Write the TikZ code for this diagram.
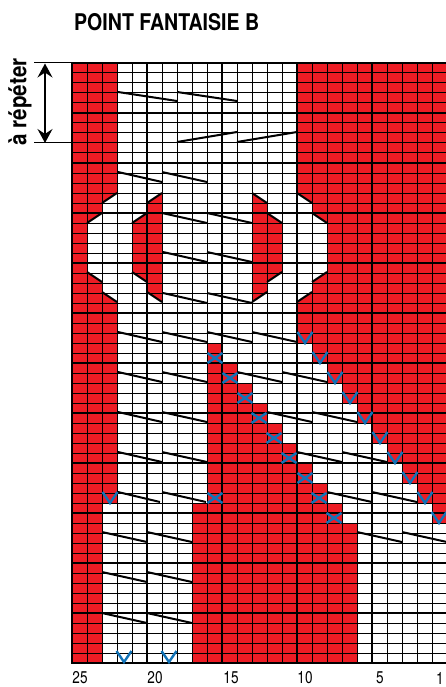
\documentclass[tikz,border=0pt]{standalone}
\usepackage{fontspec}
\setmainfont{TeX Gyre Heros}
\usetikzlibrary{arrows.meta}
\definecolor{knitred}{HTML}{ED1C24}
\definecolor{knitblue}{HTML}{1173B8}
\tikzset{
  redarea/.style={fill=knitred,draw=none},
  thin grid/.style={black,line width=1pt},
  bold grid/.style={black,line width=2.8pt},
  stitch/.style={black,line width=2pt},
  vmark/.style={knitblue,line width=2.4pt},
  xmark/.style={knitblue,line width=2.4pt},
  ticklabel/.style={inner sep=0pt,font=\fontsize{17}{17}\selectfont},
}
\newcommand{\squeezed}[2][0.8]{\scalebox{#1}[1]{#2}}
\newcommand{\vsign}[2]{\draw[vmark] ({#1-7.5},{#2-11}) -- (#1,#2) -- ({#1+7.5},{#2-11});}
\newcommand{\xsign}[2]{\draw[xmark] ({#1-7.5},{#2-5}) -- ({#1+7.5},{#2+5}) ({#1-7.5},{#2+5}) -- ({#1+7.5},{#2-5});}
\begin{document}
\begin{tikzpicture}[x=1pt,y=-1pt]
\useasboundingbox (0,0) rectangle (446,687);
\fill[white] (0,0) rectangle (446,687);
\begin{scope}
\clip (0,0) rectangle (446,687);
% red areas
\fill[redarea] (72,63)--(117,63)--(117,193)--(102,203)--(102,213)--(87,223)--(87,272)--(102,282)--(102,292)--(117,302)--(117,503)--(102,503)--(102,663)--(72,663)--cycle;
\fill[redarea] (162,193)--(147,203)--(147,213)--(132,223)--(132,272)--(147,282)--(147,292)--(162,302)--cycle;
\fill[redarea] (252,193)--(267,203)--(267,213)--(282,223)--(282,272)--(267,282)--(267,292)--(252,302)--cycle;
\fill[redarea] (297,63)--(447,63)--(447,523)--(432,523)--(432,503)--(417,503)--(417,483)--(402,483)--(402,463)--(387,463)--(387,443)--(372,443)--(372,423)--(357,423)--(357,403)--(342,403)--(342,383)--(327,383)--(327,363)--(312,363)--(312,343)--(297,343)--(297,302)--(312,292)--(312,282)--(327,272)--(327,223)--(312,213)--(312,203)--(297,193)--cycle;
\fill[redarea] (207,343)--(222,343)--(222,363)--(237,363)--(237,383)--(252,383)--(252,403)--(267,403)--(267,423)--(282,423)--(282,443)--(297,443)--(297,463)--(312,463)--(312,483)--(327,483)--(327,503)--(342,503)--(342,523)--(357,523)--(357,663)--(192,663)--(192,503)--(207,503)--cycle;
% grid
\foreach \c in {0,...,24} \draw[thin grid] ({72+15*\c},63) -- ({72+15*\c},663);
\foreach \r in {0,...,60} \draw[thin grid] (72,{63+10*\r}) -- (447,{63+10*\r});
\foreach \c in {0,...,4} \draw[bold grid] ({72+75*\c},63) -- ({72+75*\c},664);
\foreach \r in {0,...,12} \draw[bold grid] (71,{63+50*\r}) -- (447,{63+50*\r});
% stitches
\foreach \a/\b/\cc/\d in {
 118/92/177/101, 177/92/237/101, 177/142/237/132, 237/142/297/132,
 118/172/162/182, 162/172/207/182, 162/213/207/223, 207/213/252/223,
 163/252/207/262, 207/252/252/262, 163/293/207/303, 207/293/252/303,
 118/332/162/342, 162/332/207/342, 207/332/252/342, 252/332/297/342,
 118/372/162/382, 162/372/207/382, 237/372/282/382, 282/372/327/382,
 118/412/162/422, 162/412/207/422, 267/412/312/422, 312/412/357/422,
 118/452/162/462, 162/452/207/462, 297/452/342/462, 342/452/387/462,
 118/492/160/502, 162/492/206/502, 327/492/372/502, 372/492/417/502,
 102/532/147/542, 147/532/192/542, 357/532/402/542, 402/532/447/542,
 102/572/147/582, 147/572/192/582,
 102/613/147/623, 147/613/192/623,
 117/193/102/203, 102/213/87/223, 87/272/102/282, 102/292/117/302,
 162/193/147/203, 147/213/132/223, 132/272/147/282, 147/292/162/302,
 252/193/267/203, 267/213/282/223, 282/272/267/282, 267/292/252/302,
 297/193/312/203, 312/213/327/223, 327/272/312/282, 312/292/297/302}
 {\draw[stitch] (\a,\b) -- (\cc,\d);}
% decreases and increases
\foreach \x/\y in {305/343,320/363,335/383,350/403,365/423,380/443,395/463,410/483,425/503,439/523,110/503,124/662,169/662} {\vsign{\x}{\y}}
\foreach \x/\y in {215/358,230/378,245/398,259/418,274/438,289/458,305/478,319/498,334/518,215/498} {\xsign{\x}{\y}}
\end{scope}
% repeat bracket
\coordinate (repTop) at (45,63.5);
\coordinate (repBot) at (45,143);
\coordinate (tickTopL) at (34,63);
\coordinate (tickTopR) at (72,63);
\coordinate (tickBotL) at (34,143);
\coordinate (tickBotR) at (72,143);
\draw[thin grid] (tickTopL) -- (tickTopR);
\draw[thin grid] (tickBotL) -- (tickBotR);
\draw[black,line width=1.5pt,{Stealth[length=14pt,width=15pt,inset=5pt]}-{Stealth[length=14pt,width=15pt,inset=5pt]}] (repTop) -- (repBot);
% text
\node[anchor=west,inner sep=0pt,font=\bfseries\fontsize{23}{23}\selectfont] (title) at (74,22.5) {\squeezed[0.85]{POINT FANTAISIE B}};
\node[rotate=90,inner sep=0pt,font=\bfseries\fontsize{24}{24}\selectfont] (repeat) at (20,102) {\squeezed[0.86]{à répéter}};
\node[ticklabel] (n25) at (80,678) {\squeezed{25}};
\node[ticklabel] (n20) at (155,678) {\squeezed{20}};
\node[ticklabel] (n15) at (231,678) {\squeezed{15}};
\node[ticklabel] (n10) at (305,678) {\squeezed{10}};
\node[ticklabel] (n5) at (380,678) {\squeezed{5}};
\node[ticklabel] (n1) at (440,678) {\squeezed{1}};
\end{tikzpicture}
\end{document}
